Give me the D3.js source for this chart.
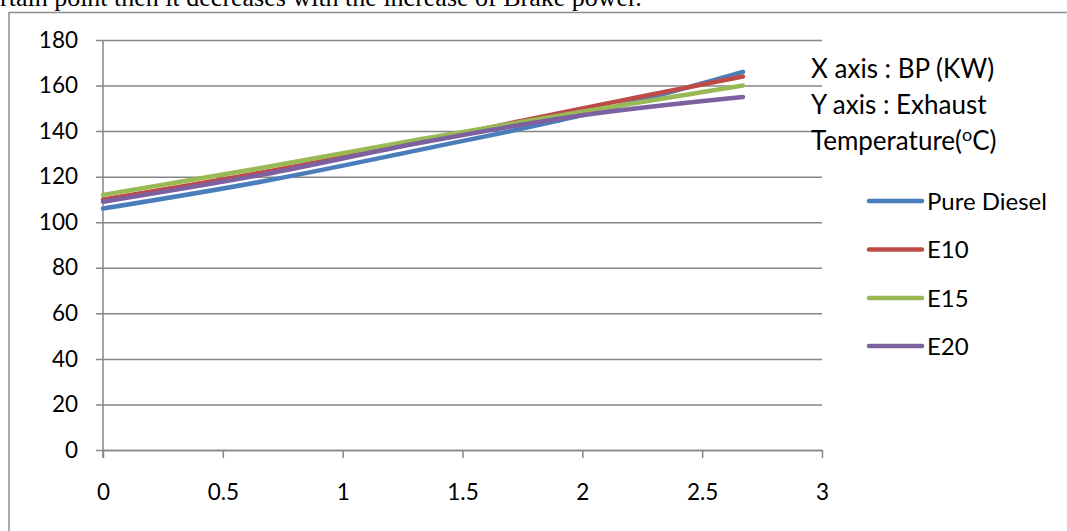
<!DOCTYPE html>
<html>
<head>
<meta charset="utf-8">
<script src="https://cdn.jsdelivr.net/npm/d3@7"></script>
<style>
  html, body { margin: 0; padding: 0; background: #fff; }
  svg { display: block; }
</style>
</head>
<body>
<script>
// ---- data ----
const bp = [0, 0.67, 1.33, 2.0, 2.67];
const seriesNames = ["Pure Diesel", "E10", "E15", "E20"];
const pureDiesel = [106, 118, 132, 147, 166];
const e10 = [110, 122, 135.5, 150, 164];
const e15 = [112, 124, 136.5, 148.5, 160];
const e20 = [109, 121, 135, 147, 155];
const yTicks = [0, 20, 40, 60, 80, 100, 120, 140, 160, 180];
const xTicks = [0, 0.5, 1, 1.5, 2, 2.5, 3];
const colors = ["#4a7ebb", "#be4b48", "#98b954", "#7d60a0"];
const annotation = ["X axis : BP (KW)", "Y axis : Exhaust", "Temperature("];
const topText = "rtain point then it decreases with the increase of Brake power.";

const W = 1067, H = 531;
const svg = d3.select("body").append("svg").attr("width", W).attr("height", H);
const font = "Lato, 'Open Sans', sans-serif";
const fs = 22.5;
const grid = "#868686";

// page text (cut off at top, as in the source page)
svg.append("text").attr("x", 0).attr("y", 6)
  .attr("font-family", "'Liberation Serif', 'Times New Roman', serif")
  .attr("font-size", 26).attr("fill", "#000").text(topText);

// outer border
svg.append("line").attr("x1", 9).attr("x2", W).attr("y1", 12.5).attr("y2", 12.5)
  .attr("stroke", "#8c8c8c").attr("stroke-width", 1.5);
svg.append("line").attr("x1", 9).attr("x2", 9).attr("y1", 12).attr("y2", H)
  .attr("stroke", "#8c8c8c").attr("stroke-width", 1.5);

const x = d3.scaleLinear().domain([0, 3]).range([103, 822]);
const y = d3.scaleLinear().domain([0, 180]).range([450, 40]);
const plotW = x(3) - x(0);

// y axis with gridlines
const gy = svg.append("g").attr("transform", `translate(${x(0)},0)`)
  .call(d3.axisLeft(y).tickValues(yTicks).tickSizeInner(-plotW).tickSizeOuter(0).tickPadding(25));
gy.select(".domain").remove();
gy.selectAll(".tick line").attr("x1", -7).attr("stroke", grid).attr("stroke-width", 1.5);
gy.selectAll(".tick text").attr("font-family", font).attr("font-size", fs).attr("fill", "#000");
svg.append("line").attr("x1", x(0)).attr("x2", x(0)).attr("y1", y(180)).attr("y2", y(0) + 8)
  .attr("stroke", grid).attr("stroke-width", 1.5);

// x axis
const gx = svg.append("g").attr("transform", `translate(0,${y(0)})`)
  .call(d3.axisBottom(x).tickValues(xTicks).tickFormat(d3.format("")).tickSizeInner(8).tickSizeOuter(0).tickPadding(26));
gx.select(".domain").attr("stroke", grid).attr("stroke-width", 1.5);
gx.selectAll(".tick line").attr("stroke", grid).attr("stroke-width", 1.5);
gx.selectAll(".tick text").attr("font-family", font).attr("font-size", fs).attr("fill", "#000");

// lines
const allSeries = [pureDiesel, e10, e15, e20];
const line = d3.line().x((d, i) => x(bp[i])).y(d => y(d)).curve(d3.curveCatmullRom);
allSeries.forEach((s, k) => {
  svg.append("path").datum(s).attr("d", line).attr("fill", "none")
    .attr("stroke", colors[k]).attr("stroke-width", 4.5)
    .attr("stroke-linecap", "round").attr("stroke-linejoin", "round");
});

// annotation text
const ann = svg.append("g").attr("font-family", font).attr("font-size", 26).attr("fill", "#000");
ann.append("text").attr("x", 811).attr("y", 78).text(annotation[0]);
ann.append("text").attr("x", 811).attr("y", 114).text(annotation[1]);
const t3 = ann.append("text").attr("x", 811).attr("y", 150);
t3.append("tspan").text(annotation[2]);
t3.append("tspan").attr("font-size", 18).attr("dy", -9).text("o");
t3.append("tspan").attr("dy", 9).text("C)");

// legend
const legY = [201, 249.5, 298, 346];
seriesNames.forEach((n, k) => {
  svg.append("line").attr("x1", 869).attr("x2", 922).attr("y1", legY[k]).attr("y2", legY[k])
    .attr("stroke", colors[k]).attr("stroke-width", 4.5).attr("stroke-linecap", "round");
  svg.append("text").attr("x", 927).attr("y", legY[k]).attr("dy", "0.36em")
    .attr("font-family", font).attr("font-size", 24).attr("fill", "#000").text(n);
});
</script>
</body>
</html>
